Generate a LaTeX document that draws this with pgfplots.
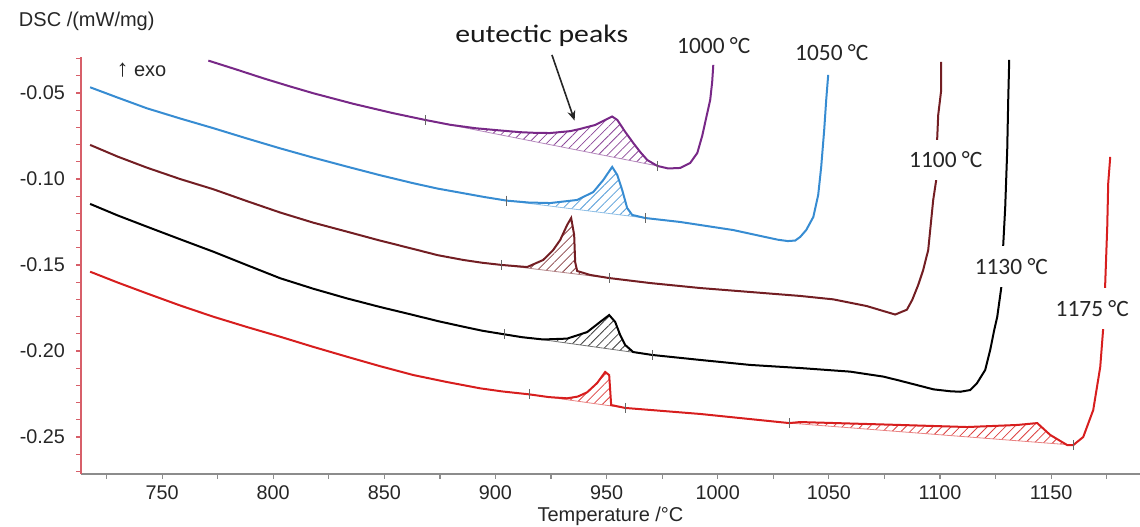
\documentclass[border=0pt]{standalone}
\usepackage{fontspec}
\setmainfont{Liberation Sans}
\newfontfamily\calibri{Carlito}
\newfontfamily\calibriwide[FakeStretch=1.18]{Carlito}
\usepackage{pgfplots}
\pgfplotsset{compat=1.18}
\usepgfplotslibrary{fillbetween}
\usetikzlibrary{patterns.meta,arrows.meta}
\definecolor{cpurple}{RGB}{120,40,135}
\definecolor{cblue}{RGB}{55,140,210}
\definecolor{cbrown}{RGB}{115,30,35}
\definecolor{cred}{RGB}{215,30,30}
\definecolor{caxisred}{RGB}{215,95,105}
\definecolor{cgray}{RGB}{140,140,140}
\begin{document}
\begin{tikzpicture}
\begin{axis}[
  at={(40.5bp,26.5bp)}, anchor=south west,
  scale only axis, width=529.5bp, height=208.5bp,
  xmin=713.5, xmax=1190, ymin=-0.2715, ymax=-0.0291,
  axis x line*=bottom, axis y line*=left,
  x axis line style={cgray, line width=1bp},
  y axis line style={caxisred, line width=0.6bp},
  x tick style={cgray, line width=0.6bp},
  y tick style={caxisred, line width=0.6bp},
  tick align=outside,
  major tick length=2.5bp, minor tick length=2.5bp,
  xtick={750,800,...,1150},
  minor xtick={725,775,...,1175},
  ytick={-0.25,-0.20,-0.15,-0.10,-0.05},
  minor ytick={-0.27,-0.26,-0.24,-0.23,-0.22,-0.21,-0.19,-0.18,-0.17,-0.16,-0.14,-0.13,-0.12,-0.11,-0.09,-0.08,-0.07,-0.06,-0.04,-0.03},
  /pgf/number format/assume math mode=true,
  tick label style={font=\fontsize{9.9bp}{12bp}\selectfont, text=black!85},
  yticklabel style={/pgf/number format/.cd, fixed, fixed zerofill, precision=2, /tikz/.cd, xshift=-2bp},
  xticklabel style={/pgf/number format/.cd, fixed, precision=0, 1000 sep={}},
  xlabel={Temperature /°C},
  xlabel style={at={(axis description cs:0.5,-0.115)}, anchor=base, font=\fontsize{10bp}{12bp}\selectfont, text=black!85},
  clip=false,
]
% baselines
\addplot[name path=pbase, cpurple!55, line width=0.4bp] coordinates {(868.4,-0.0657) (972.8,-0.0924)};
\addplot[name path=bbase, cblue!55, line width=0.4bp] coordinates {(905.1,-0.1126) (967.35,-0.1227)};
\addplot[name path=brbase, cbrown!55, line width=0.4bp] coordinates {(902.9,-0.1500) (951.15,-0.1576)};
\addplot[name path=kbase, black!55, line width=0.4bp] coordinates {(903.9,-0.1903) (970.5,-0.2023)};
\addplot[name path=rbase, cred!55, line width=0.4bp] coordinates {(915.15,-0.2252) (958.35,-0.2331)};
\addplot[name path=rbase2, cred!55, line width=0.4bp] coordinates {(1032.15,-0.2419) (1159.95,-0.2547)};
% curves
\addplot[name path=purple, cpurple, line width=1bp] coordinates {
(770.8,-0.0312) (783.0,-0.0362) (795.6,-0.0415) (807.0,-0.0460) (818.1,-0.0502)
(836.0,-0.0563) (854.1,-0.0618) (868.4,-0.0657) (879.6,-0.0685) (891.0,-0.0705)
(902.1,-0.0718) (911.1,-0.0728) (918.0,-0.0732) (924.6,-0.0733)
(933.6,-0.0722) (938.1,-0.0709) (944.9,-0.0686) (949.4,-0.0657) (952.5,-0.0637)
(954.8,-0.0657) (958.4,-0.0727) (962.0,-0.0791) (965.1,-0.0843) (968.3,-0.0890)
(972.8,-0.0924) (977.7,-0.0939) (983.1,-0.0936) (987.6,-0.0907) (990.8,-0.0849)
(993.0,-0.0750) (994.8,-0.0645) (996.6,-0.0541) (997.5,-0.0436) (998.0,-0.0337)};
\addplot[name path=blue, cblue, line width=1bp] coordinates {
(717.6,-0.0467) (730.0,-0.0527) (743.1,-0.0589) (758.0,-0.0648) (773.1,-0.0705)
(788.0,-0.0764) (803.1,-0.0822) (818.0,-0.0876) (833.1,-0.0928) (848.0,-0.0978)
(863.1,-0.1025) (874.0,-0.1056) (885.6,-0.1083) (895.0,-0.1105) (905.1,-0.1126) (915.0,-0.1137) (924.6,-0.1140)
(936.75,-0.1122) (944.0,-0.1076) (948.5,-0.1006) (952.5,-0.0930) (954.8,-0.0977)
(957.0,-0.1064) (959.25,-0.1169) (961.5,-0.1209) (967.35,-0.1227) (983.1,-0.1250)
(1007.0,-0.1297) (1019.1,-0.1331) (1027.0,-0.1353) (1031.5,-0.1361) (1034.85,-0.1358) (1037.1,-0.1337)
(1039.8,-0.1297) (1043.0,-0.1221) (1045.2,-0.1093) (1046.55,-0.0930) (1047.9,-0.0715)
(1048.8,-0.0541) (1049.7,-0.0395)};
\addplot[name path=brown, cbrown, line width=1bp] coordinates {
(717.6,-0.0802) (730.0,-0.0870) (743.1,-0.0934) (758.0,-0.1000) (773.1,-0.1060)
(788.0,-0.1128) (803.1,-0.1195) (818.0,-0.1254) (833.1,-0.1306) (848.0,-0.1358)
(863.1,-0.1407) (874.0,-0.1443) (885.6,-0.1471) (894.0,-0.1487) (902.9,-0.1500) (914.25,-0.1512)
(921.45,-0.1471) (925.95,-0.1413) (929.1,-0.1355) (932.25,-0.1267) (934.05,-0.1227)
(935.4,-0.1326) (935.85,-0.1483) (936.75,-0.1535) (942.6,-0.1558) (951.15,-0.1576)
(969.6,-0.1605) (992.1,-0.1634) (1014.6,-0.1657) (1037.1,-0.1680) (1052.1,-0.1700)
(1067.1,-0.1739) (1074.6,-0.1768) (1079.85,-0.1788) (1085.1,-0.1760) (1087.5,-0.1703)
(1090.2,-0.1616) (1092.45,-0.1529) (1094.7,-0.1413) (1096.95,-0.1122) (1098.3,-0.1006)
(1098.75,-0.0762) (1099.2,-0.0628) (1100.55,-0.0483) (1100.55,-0.0320)};
\addplot[name path=black, black, line width=1bp] coordinates {
(717.6,-0.1145) (730.0,-0.1212) (743.1,-0.1277) (758.0,-0.1350) (773.1,-0.1423)
(788.0,-0.1500) (803.1,-0.1577) (818.0,-0.1638) (833.1,-0.1694) (848.0,-0.1744)
(863.1,-0.1791) (874.0,-0.1826) (885.6,-0.1859) (894.0,-0.1882) (903.9,-0.1903)
(912.0,-0.1920) (921.45,-0.1933) (932.25,-0.1928) (941.25,-0.1890)
(947.1,-0.1831) (951.15,-0.1791) (953.85,-0.1831) (956.1,-0.1907) (958.35,-0.1965)
(961.95,-0.2006) (970.5,-0.2023) (992.1,-0.2052) (1014.6,-0.2081) (1037.1,-0.2099)
(1059.6,-0.2120) (1074.6,-0.2149) (1082.1,-0.2173) (1089.6,-0.2198) (1097.1,-0.2223)
(1104.6,-0.2234) (1109.1,-0.2237) (1113.6,-0.2227) (1116.6,-0.2188) (1120.35,-0.2110)
(1122.6,-0.1994) (1124.4,-0.1878) (1125.75,-0.1802)
(1127.55,-0.1634) (1128.45,-0.1384) (1129.35,-0.1163) (1130.25,-0.0831) (1130.7,-0.0541)
(1131.15,-0.0308)};
\addplot[name path=red, cred, line width=1bp] coordinates {
(717.6,-0.1539) (730.0,-0.1602) (743.1,-0.1665) (758.0,-0.1735) (773.1,-0.1801)
(788.0,-0.1860) (803.1,-0.1917) (818.0,-0.1976) (833.1,-0.2033) (848.0,-0.2088)
(863.1,-0.2140) (878.0,-0.2180) (893.1,-0.2217) (903.0,-0.2235) (915.15,-0.2252)
(924.0,-0.2268) (932.25,-0.2275) (937.0,-0.2265) (941.25,-0.2240) (945.75,-0.2186)
(949.35,-0.2122) (951.15,-0.2140) (952.05,-0.2314) (958.35,-0.2331) (992.1,-0.2366)
(1032.15,-0.2419) (1037.1,-0.2413) (1082.1,-0.2430) (1112.25,-0.2442) (1134.75,-0.2430)
(1143.75,-0.2419) (1149.6,-0.2488) (1157.25,-0.2547) (1159.95,-0.2547) (1164.45,-0.2500)
(1168.95,-0.2343) (1172.1,-0.2093) (1173.45,-0.1866) (1174.35,-0.1605) (1175.25,-0.1279)
(1175.7,-0.1023) (1176.6,-0.0872)};
% hatches
\addplot[pattern={Lines[angle=45,distance=3.2bp,line width=0.4bp]}, pattern color=cpurple!85] fill between[of=purple and pbase, soft clip={domain=868.4:972.8}];
\addplot[pattern={Lines[angle=45,distance=3.2bp,line width=0.4bp]}, pattern color=cblue!85] fill between[of=blue and bbase, soft clip={domain=905.1:967.35}];
\addplot[pattern={Lines[angle=45,distance=3.2bp,line width=0.4bp]}, pattern color=cbrown!85] fill between[of=brown and brbase, soft clip={domain=902.9:951.15}];
\addplot[pattern={Lines[angle=45,distance=3.2bp,line width=0.4bp]}, pattern color=black!75] fill between[of=black and kbase, soft clip={domain=903.9:970.5}];
\addplot[pattern={Lines[angle=45,distance=3.2bp,line width=0.4bp]}, pattern color=cred!85] fill between[of=red and rbase, soft clip={domain=915.15:958.35}];
\addplot[pattern={Lines[angle=45,distance=3.2bp,line width=0.4bp]}, pattern color=cred!85] fill between[of=red and rbase2, soft clip={domain=1032.15:1159.95}];
% integration limit ticks
\addplot[only marks, mark=|, mark size=2.5bp, black!60, mark options={line width=0.5bp}] coordinates {
(868.4,-0.0657) (972.8,-0.0924) (905.1,-0.1126) (967.35,-0.1227) (902.9,-0.1500) (951.15,-0.1576)
(903.9,-0.1903) (970.5,-0.2023) (915.15,-0.2252) (958.35,-0.2331) (1032.15,-0.2419) (1159.95,-0.2547)};
% labels
\node[anchor=base west, font=\fontsize{10bp}{12bp}\selectfont, text=black!85] at (axis description cs:-0.0652,1.0743) {DSC /(mW/mg)};
\node[anchor=base west, font=\fontsize{10bp}{12bp}\selectfont, text=black!85, inner sep=0pt] at (axis cs:729.3,-0.0407) {{\fontsize{12bp}{12bp}\selectfont ↑} exo};
\node[font=\calibri\fontsize{11.7bp}{14bp}\selectfont, text=black!85] at (axis cs:998.2,-0.0224) {1000 °C};
\node[font=\calibri\fontsize{11.7bp}{14bp}\selectfont, text=black!85] at (axis cs:1051.3,-0.0265) {1050 °C};
\node[font=\calibri\fontsize{11.7bp}{14bp}\selectfont, text=black!85, fill=white, inner xsep=1bp, inner ysep=6bp] at (axis cs:1102.6,-0.0890) {1100 °C};
\node[font=\calibri\fontsize{11.7bp}{14bp}\selectfont, text=black!85, fill=white, inner xsep=1bp, inner ysep=6bp] at (axis cs:1132.1,-0.1509) {1130 °C};
\node[font=\calibri\fontsize{11.7bp}{14bp}\selectfont, text=black!85, fill=white, inner xsep=1bp, inner ysep=6bp] at (axis cs:1168.5,-0.1753) {1175 °C};
\node[font=\calibriwide\fontsize{12.6bp}{15bp}\selectfont, text=black!90] at (axis cs:920.8,-0.0165) {eutectic peaks};
\draw[-{Stealth[length=5bp,width=4bp]}, line width=0.8bp, black!85] (axis cs:925.4,-0.0279) -- (axis cs:935.6,-0.0661);
\end{axis}
\pgfresetboundingbox
\useasboundingbox (0,0) rectangle (570bp,263.5bp);
\end{tikzpicture}
\end{document}
